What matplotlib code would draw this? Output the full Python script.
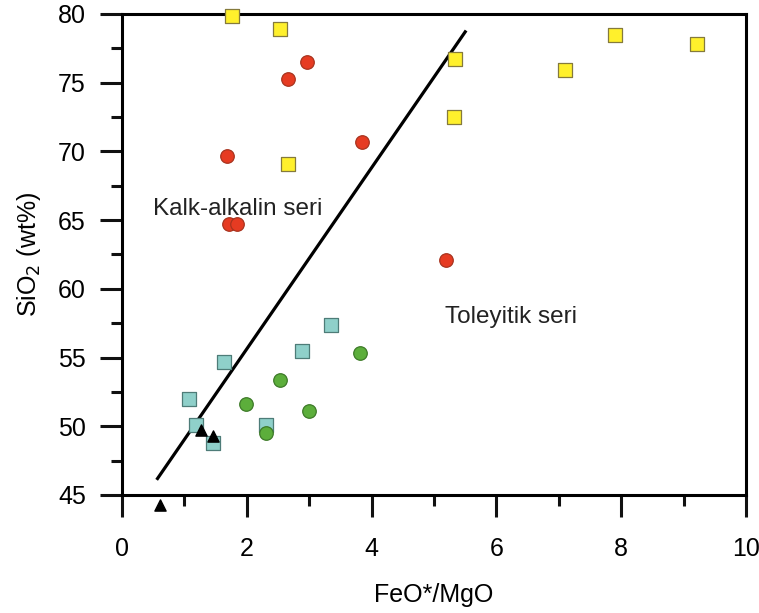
import matplotlib.pyplot as plt
from matplotlib.ticker import MultipleLocator

plt.rcParams['font.family'] = ['Liberation Sans', 'DejaVu Sans']

# FeO*/MgO vs SiO2 by sample group
yellow_x = [1.76, 2.53, 2.66, 5.34, 5.32, 7.10, 7.90, 9.22]
yellow_y = [79.85, 78.9, 69.1, 76.7, 72.5, 75.9, 78.5, 77.8]

red_x = [2.97, 2.66, 3.84, 1.69, 1.72, 1.84, 5.20]
red_y = [76.5, 75.3, 70.7, 69.7, 64.7, 64.7, 62.1]

cyan_x = [1.64, 1.08, 1.19, 1.46, 2.88, 3.35, 2.30]
cyan_y = [54.7, 52.0, 50.1, 48.8, 55.5, 57.4, 50.1]

green_x = [3.81, 2.54, 1.99, 2.99, 2.30]
green_y = [55.3, 53.4, 51.6, 51.1, 49.5]

tri_x = [1.27, 1.46, 0.61]
tri_y = [49.7, 49.3, 44.3]

# tholeiitic / calc-alkaline divide
div_x = [0.57, 5.50]
div_y = [46.2, 78.7]

fig = plt.figure(figsize=(7.59, 6.13), dpi=100)
ax = fig.add_axes([0.1607, 0.1925, 0.8222, 0.7847])

ax.plot(div_x, div_y, color='black', lw=2.3, zorder=2)

ax.scatter(yellow_x, yellow_y, marker='s', s=105, c='#fff02c', edgecolors='#857a3c', linewidths=0.9, zorder=3, clip_on=False)
ax.scatter(red_x, red_y, marker='o', s=95, c='#e63b22', edgecolors='#a8331e', linewidths=0.9, zorder=3)
ax.scatter(cyan_x, cyan_y, marker='s', s=105, c='#8fd0ca', edgecolors='#4e7c78', linewidths=0.9, zorder=3)
ax.scatter(green_x, green_y, marker='o', s=95, c='#5cae3b', edgecolors='#3d7a28', linewidths=0.9, zorder=3)
ax.scatter(tri_x, tri_y, marker='^', s=65, c='black', zorder=4, clip_on=False)

ax.text(0.5, 65.8, 'Kalk-alkalin seri', fontsize=17.5, color='#222222', va='center', ha='left')
ax.text(5.18, 57.95, 'Toleyitik seri', fontsize=17.5, color='#222222', va='center', ha='left')

ax.set_xlim(0, 10)
ax.set_ylim(45, 80)
ax.xaxis.set_major_locator(MultipleLocator(2))
ax.xaxis.set_minor_locator(MultipleLocator(1))
ax.yaxis.set_major_locator(MultipleLocator(5))
ax.yaxis.set_minor_locator(MultipleLocator(2.5))

for s in ax.spines.values():
    s.set_linewidth(2.2)
ax.tick_params(which='major', direction='out', length=16, width=2.2, labelsize=18, color='#111111')
ax.tick_params(which='minor', direction='out', length=8, width=2.2, color='#111111')
ax.tick_params(axis='x', which='major', pad=14)
ax.tick_params(axis='y', which='major', pad=10)

ax.set_xlabel('FeO*/MgO', fontsize=18, labelpad=16)
ax.set_ylabel('SiO$_2$ (wt%)', fontsize=18, labelpad=11)

fig.savefig('out.png', dpi=100)
